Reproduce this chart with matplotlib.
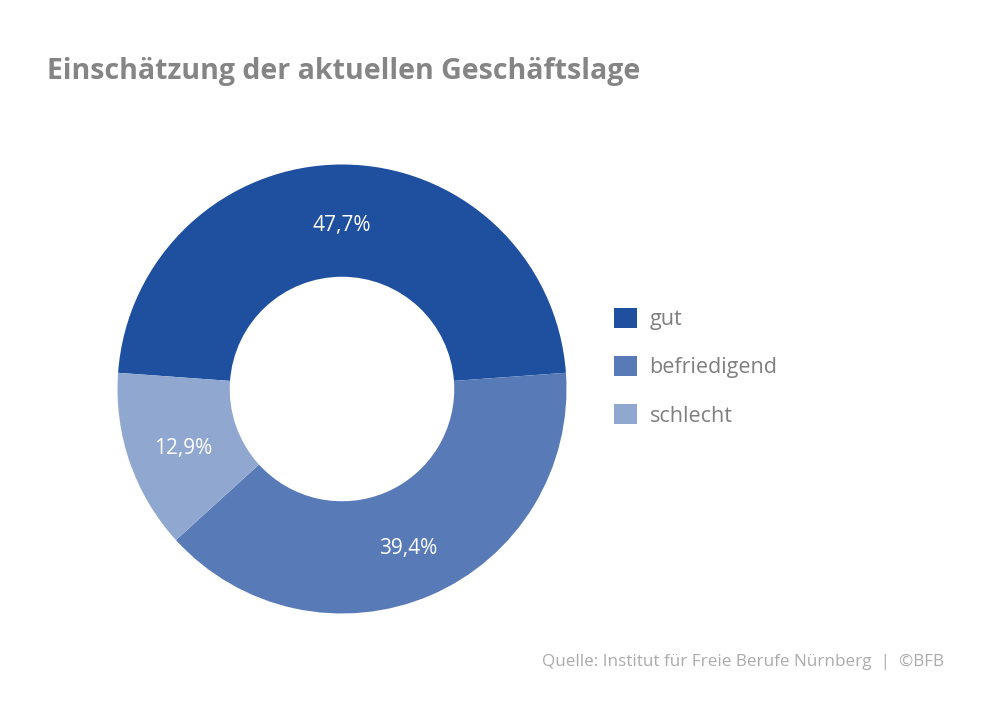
import matplotlib
matplotlib.use("Agg")
import matplotlib.pyplot as plt
from matplotlib.patches import Patch

plt.rcParams["font.family"] = ["Open Sans", "DejaVu Sans"]

categories = ["gut", "befriedigend", "schlecht"]
shares = [47.7, 39.4, 12.9]
colors = ["#1f4f9f", "#587bb8", "#90a8cf"]

TITLE = "Einschätzung der aktuellen Geschäftslage"
SOURCE = "Quelle: Institut für Freie Berufe Nürnberg  |  ©BFB"

W, H = 992, 709
fig = plt.figure(figsize=(W / 100, H / 100), dpi=100)
fig.patch.set_facecolor("white")

# donut centred at (342, 389) px, outer radius ~224 px
cx, cy, r = 342, 389, 224.5
ax = fig.add_axes([(cx - r) / W, (H - cy - r) / H, 2 * r / W, 2 * r / H])
start = 90 + shares[0] / 100 * 360 / 2
wedges, texts, autotexts = ax.pie(
    shares, colors=colors, startangle=start, counterclock=False,
    radius=1, wedgeprops=dict(width=0.5, linewidth=0),
    autopct=lambda p: f"{p:.1f}%".replace(".", ","), pctdistance=0.75,
    textprops=dict(color="white", fontsize=15),
)
# nudge labels down a few pixels to sit like the original
for t in autotexts:
    x, y = t.get_position()
    t.set_position((x, y - 0.02))
ax.set_xlim(-1, 1)
ax.set_ylim(-1, 1)
ax.set_aspect("equal")
ax.axis("off")

fig.text(47 / W, 1 - 72 / H, TITLE, fontsize=20.5, fontweight="bold",
         color="#858585", va="center", ha="left")

handles = [Patch(facecolor=c, edgecolor="none") for c in colors]
fig.legend(handles, categories, loc="upper left",
           bbox_to_anchor=(614 / W, 1 - 308 / H), frameon=False,
           fontsize=15.5, labelcolor="#7f7f7f", handlelength=1.05, handleheight=1.05,
           handletextpad=0.6, labelspacing=1.2, borderpad=0, borderaxespad=0)

fig.text(944 / W, 1 - 662 / H, SOURCE, fontsize=12.3, color="#ababab",
         ha="right", va="center")

fig.savefig("out.png", dpi=100)
